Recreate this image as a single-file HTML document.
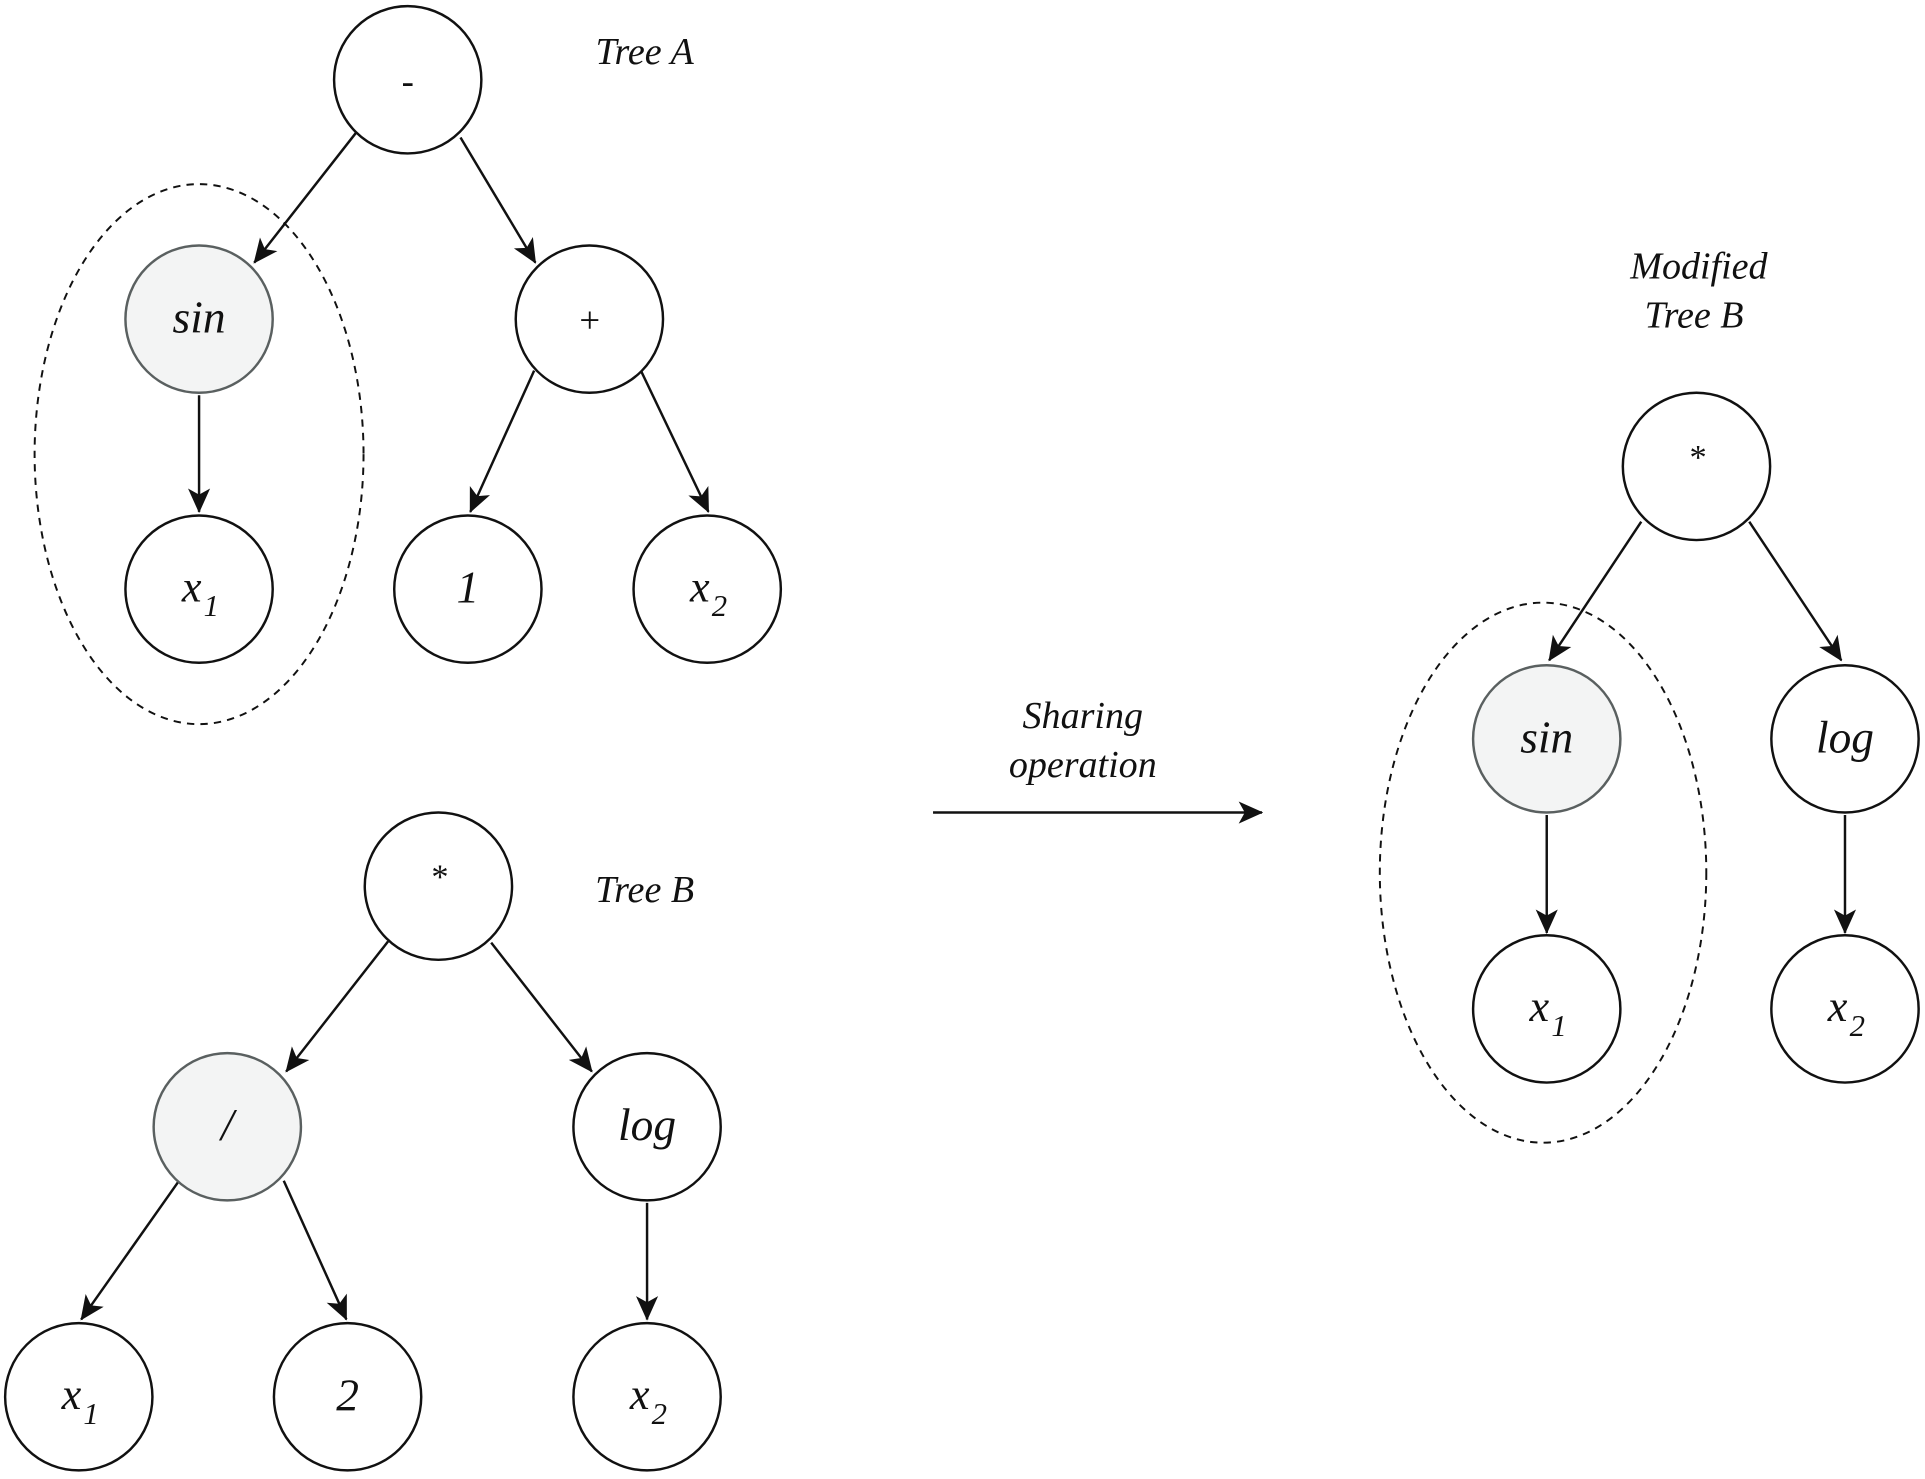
<!DOCTYPE html>
<html><head><meta charset="utf-8"><style>
html,body{margin:0;padding:0;background:#fff;}
svg{display:block;}
text{font-family:"Liberation Serif",serif;font-style:italic;fill:#111;}
</style></head><body>
<svg id="s" width="1925" height="1479" viewBox="0 0 1568 1205" xmlns="http://www.w3.org/2000/svg">
<defs>
<marker id="ar" viewBox="0 0 20 20" refX="19" refY="10" markerWidth="20" markerHeight="20" markerUnits="userSpaceOnUse" orient="auto">
<path d="M0,1 L20,10 L0,19 L5,10 Z" fill="#111"/>
</marker>
</defs>
<ellipse cx="162" cy="370" rx="134" ry="220" fill="none" stroke="#111" stroke-width="1.6" stroke-dasharray="6,5"/>
<ellipse cx="1257" cy="711" rx="133" ry="220" fill="none" stroke="#111" stroke-width="1.6" stroke-dasharray="6,5"/>
<g id="edges" stroke="#111" stroke-width="2" marker-end="url(#ar)">
<line x1="290" y1="108" x2="207" y2="214"/>
<line x1="375" y1="112" x2="436" y2="214"/>
<line x1="162" y1="322" x2="162" y2="417"/>
<line x1="435" y1="302" x2="383" y2="417"/>
<line x1="522" y1="302" x2="577" y2="417"/>
<line x1="316" y1="767" x2="233" y2="873"/>
<line x1="400" y1="768" x2="482" y2="873"/>
<line x1="145" y1="963" x2="66" y2="1075"/>
<line x1="231" y1="962" x2="282" y2="1075"/>
<line x1="527" y1="980" x2="527" y2="1075"/>
<line x1="1337" y1="425" x2="1262" y2="538"/>
<line x1="1425" y1="425" x2="1500" y2="538"/>
<line x1="1260" y1="664" x2="1260" y2="760"/>
<line x1="1503" y1="664" x2="1503" y2="760"/>
<line x1="760" y1="662" x2="1028" y2="662"/>
</g>
<g id="nodes"></g>
<text x="525" y="52" font-size="31" text-anchor="middle">Tree A</text>
<text x="525" y="735" font-size="31" text-anchor="middle">Tree B</text>
<text x="1384" y="227" font-size="31" text-anchor="middle">Modified</text>
<text x="1380" y="267" font-size="31" text-anchor="middle">Tree B</text>
<text x="882" y="593" font-size="31" text-anchor="middle">Sharing</text>
<text x="882" y="633" font-size="31" text-anchor="middle">operation</text>
</svg>
<script>
var N={
a0:[332,65,'-',0],a1:[162,260,'sin',1],a2:[480,260,'+',0],a3:[162,480,'x1',0],a4:[381,480,'1',0],a5:[576,480,'x2',0],
b0:[357,722,'*',0],b1:[185,918,'/',1],b2:[527,918,'log',0],b3:[64,1138,'x1',0],b4:[283,1138,'2',0],b5:[527,1138,'x2',0],
c0:[1382,380,'*',0],c1:[1260,602,'sin',1],c2:[1503,602,'log',0],c3:[1260,822,'x1',0],c4:[1503,822,'x2',0]};
var R=60,ns='http://www.w3.org/2000/svg',ng=document.getElementById('nodes');
function el(t,a,p){var e=document.createElementNS(ns,t);for(var k in a)e.setAttribute(k,a[k]);p.appendChild(e);return e;}
for(var k in N){var n=N[k];
el('circle',{cx:n[0],cy:n[1],r:R,fill:n[3]?'#f3f4f4':'#fff',stroke:n[3]?'#5a6060':'#111','stroke-width':2},ng);
var t=n[2];
if(t=='x1'||t=='x2'){var tx=el('text',{x:n[0]-6,y:n[1]+10,'font-size':36,'text-anchor':'middle'},ng);tx.textContent='x';
var sb=el('text',{x:n[0]+10,y:n[1]+22,'font-size':25,'text-anchor':'middle'},ng);sb.textContent=t[1];}
else{var fs=(t=='*')?28:(t=='-'||t=='+')?30:37;var yo=(t=='*')?2:11;
var tx=el('text',{x:n[0],y:n[1]+yo,'font-size':fs,'text-anchor':'middle'},ng);tx.textContent=t;
if(t=='+'||t=='-'||t=='*')tx.setAttribute('font-style','normal');}}
</script>
</body></html>
